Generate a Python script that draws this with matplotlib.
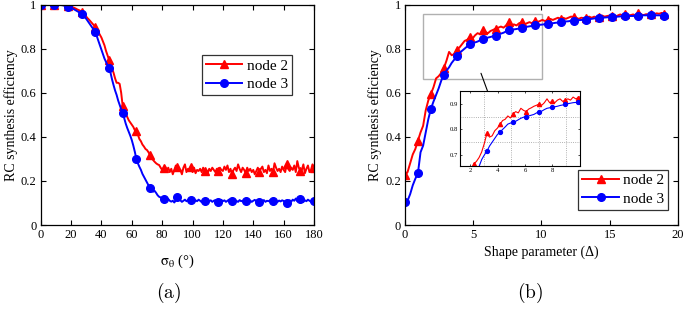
import numpy as np
import matplotlib
matplotlib.use("Agg")
import matplotlib.pyplot as plt
from matplotlib.patches import Rectangle

plt.rcParams['font.family'] = ['Liberation Serif', 'DejaVu Serif']
plt.rcParams['mathtext.fontset'] = 'stix'

# ---------------- Panel (a) data: sigma_theta 0..180 deg (1 deg step)
sigma_deg = list(range(0, 181))
node2_a = [
    1.0, 1.0, 1.0, 1.0, 1.0, 1.0, 1.0, 1.0, 1.0, 1.0,            # 0-9
    1.0, 1.0, 1.0, 0.998, 0.998, 0.997, 0.996, 0.995, 0.994, 0.992,  # 10-19
    0.99, 0.988, 0.985, 0.982, 0.978, 0.975, 0.972, 0.968, 0.96, 0.952,  # 20-29
    0.945, 0.937, 0.93, 0.922, 0.914, 0.906, 0.9, 0.888, 0.875, 0.862,  # 30-39
    0.85, 0.832, 0.815, 0.79, 0.77, 0.75, 0.735, 0.71, 0.69, 0.665,  # 40-49
    0.645, 0.645, 0.64, 0.60, 0.54, 0.53, 0.51, 0.49, 0.475, 0.465,  # 50-59
    0.455, 0.445, 0.43, 0.428, 0.41, 0.39, 0.38, 0.365, 0.356, 0.345,  # 60-69
    0.34, 0.33, 0.318, 0.31, 0.295, 0.287, 0.28, 0.275, 0.272, 0.26,  # 70-79
    0.25, 0.258, 0.265, 0.245, 0.26, 0.24, 0.255, 0.23, 0.25, 0.27,  # 80-89
    0.265, 0.245, 0.25, 0.23, 0.26, 0.275, 0.24, 0.255, 0.25, 0.265,  # 90-99
    0.24, 0.26, 0.235, 0.25, 0.245, 0.255, 0.24, 0.26, 0.245, 0.25,  # 100-109
    0.235, 0.255, 0.245, 0.26, 0.25, 0.24, 0.255, 0.245, 0.26, 0.25,  # 110-119
    0.245, 0.265, 0.25, 0.27, 0.24, 0.255, 0.23, 0.25, 0.26, 0.245,  # 120-129
    0.275, 0.255, 0.24, 0.26, 0.25, 0.235, 0.26, 0.245, 0.255, 0.24,  # 130-139
    0.25, 0.23, 0.245, 0.26, 0.24, 0.255, 0.265, 0.24, 0.25, 0.235,  # 140-149
    0.27, 0.245, 0.255, 0.24, 0.28, 0.26, 0.245, 0.255, 0.24, 0.265,  # 150-159
    0.25, 0.24, 0.275, 0.255, 0.245, 0.26, 0.25, 0.27, 0.24, 0.29,  # 160-169
    0.26, 0.245, 0.25, 0.275, 0.235, 0.255, 0.27, 0.24, 0.25, 0.275,  # 170-179
    0.26,                                                             # 180
]
node3_a = [
    1.0, 1.0, 1.0, 1.0, 1.0, 1.0, 1.0, 1.0, 1.0, 1.0,
    1.0, 1.0, 0.999, 0.998, 0.997, 0.996, 0.994, 0.992, 0.99, 0.988,
    0.985, 0.982, 0.978, 0.974, 0.97, 0.966, 0.962, 0.958, 0.95, 0.943,
    0.935, 0.925, 0.915, 0.905, 0.895, 0.886, 0.876, 0.855, 0.835, 0.815,
    0.795, 0.775, 0.755, 0.74, 0.725, 0.713, 0.69, 0.66, 0.634, 0.61,
    0.59, 0.565, 0.545, 0.525, 0.509, 0.485, 0.46, 0.44, 0.423, 0.405,
    0.385, 0.36, 0.332, 0.30, 0.28, 0.264, 0.25, 0.232, 0.219, 0.205,
    0.192, 0.18, 0.169, 0.16, 0.151, 0.155, 0.146, 0.135, 0.128, 0.125,
    0.121, 0.118, 0.12, 0.115, 0.118, 0.11, 0.106, 0.11, 0.102, 0.112,
    0.125, 0.118, 0.112, 0.105, 0.11, 0.115, 0.108, 0.112, 0.118, 0.115,
    0.11, 0.105, 0.112, 0.108, 0.115, 0.11, 0.104, 0.112, 0.107, 0.11,
    0.115, 0.108, 0.112, 0.105, 0.11, 0.113, 0.107, 0.103, 0.11, 0.114,
    0.108, 0.112, 0.105, 0.11, 0.115, 0.108, 0.111, 0.106, 0.112, 0.109,
    0.105, 0.113, 0.108, 0.11, 0.104, 0.109, 0.112, 0.107, 0.111, 0.105,
    0.11, 0.114, 0.108, 0.112, 0.106, 0.111, 0.109, 0.113, 0.105, 0.11,
    0.108, 0.112, 0.106, 0.11, 0.113, 0.108, 0.105, 0.111, 0.107, 0.112,
    0.109, 0.105, 0.1, 0.108, 0.112, 0.106, 0.115, 0.11, 0.12, 0.108,
    0.113, 0.118, 0.11, 0.105, 0.112, 0.108, 0.115, 0.11, 0.106, 0.112,
    0.11,
]

# ---------------- Panel (b) data: shape parameter 0..19 (step 0.19)
shape_param = [round(0.19 * i, 2) for i in range(101)]
node2_b = [
    0.225, 0.24, 0.28, 0.32, 0.345, 0.383, 0.42, 0.45, 0.52, 0.565,
    0.594, 0.625, 0.665, 0.675, 0.69, 0.712, 0.745, 0.785, 0.77, 0.775,
    0.795, 0.805, 0.82, 0.835, 0.84, 0.853, 0.845, 0.86, 0.87, 0.865,
    0.883, 0.875, 0.87, 0.88, 0.885, 0.891, 0.895, 0.9, 0.895, 0.905,
    0.92, 0.905, 0.91, 0.905, 0.915, 0.92, 0.91, 0.915, 0.92, 0.915,
    0.927, 0.92, 0.925, 0.93, 0.925, 0.93, 0.935, 0.93, 0.935, 0.94,
    0.936, 0.94, 0.935, 0.94, 0.945, 0.944, 0.94, 0.935, 0.94, 0.938,
    0.94, 0.945, 0.94, 0.945, 0.94, 0.945, 0.95, 0.945, 0.948, 0.95,
    0.948, 0.945, 0.95, 0.955, 0.95, 0.958, 0.95, 0.952, 0.955, 0.95,
    0.962, 0.955, 0.952, 0.956, 0.955, 0.958, 0.955, 0.96, 0.958, 0.962,
    0.958,
]
node3_b = [
    0.103, 0.11, 0.14, 0.18, 0.21, 0.235, 0.33, 0.36, 0.42, 0.48,
    0.527, 0.56, 0.59, 0.62, 0.655, 0.682, 0.70, 0.715, 0.735, 0.75,
    0.765, 0.78, 0.79, 0.80, 0.81, 0.821, 0.825, 0.828, 0.832, 0.838,
    0.844, 0.848, 0.85, 0.853, 0.856, 0.859, 0.865, 0.868, 0.872, 0.878,
    0.883, 0.885, 0.887, 0.889, 0.891, 0.894, 0.896, 0.899, 0.901, 0.903,
    0.905, 0.906, 0.908, 0.909, 0.911, 0.912, 0.914, 0.915, 0.917, 0.918,
    0.92, 0.921, 0.923, 0.924, 0.926, 0.927, 0.928, 0.929, 0.93, 0.931,
    0.932, 0.934, 0.935, 0.937, 0.938, 0.94, 0.94, 0.941, 0.942, 0.943,
    0.944, 0.944, 0.945, 0.946, 0.946, 0.947, 0.947, 0.948, 0.948, 0.949,
    0.95, 0.95, 0.951, 0.951, 0.952, 0.952, 0.952, 0.951, 0.951, 0.95,
    0.95,
]

series_labels = ["node 2", "node 3"]
RED = "#ff0000"
BLUE = "#0000ff"

fig = plt.figure(figsize=(6.85, 3.09), dpi=100)

def style_axes(ax, fs=9, length=3.5):
    ax.tick_params(direction='in', top=True, right=True, labelsize=fs,
                   length=length, width=0.8, pad=3)
    for s in ax.spines.values():
        s.set_linewidth(0.9)

# ---------- (a)
axa = fig.add_axes([0.0594, 0.2718, 0.399, 0.7136])
axa.plot(sigma_deg, node2_a, color=RED, lw=1.4, marker='^', ms=6, markevery=9,
         label=series_labels[0])
axa.plot(sigma_deg, node3_a, color=BLUE, lw=1.4, marker='o', ms=5.5, markevery=9,
         label=series_labels[1])
axa.set_xlim(0, 180)
axa.set_ylim(0, 1)
axa.set_xticks(range(0, 181, 20))
axa.set_yticks([0, 0.2, 0.4, 0.6, 0.8, 1.0])
axa.set_yticklabels(["0", "0.2", "0.4", "0.6", "0.8", "1"])
style_axes(axa)
axa.set_xlabel(r"$\mathrm{σ_θ}$ (°)", fontsize=10.5, labelpad=8)
axa.set_ylabel("RC synthesis efficiency", fontsize=10, labelpad=2)
lega = axa.legend(loc='upper left', bbox_to_anchor=(0.59, 0.77), fontsize=11,
                  frameon=True, fancybox=False, edgecolor='black',
                  handlelength=2.4, borderpad=0.25, labelspacing=0.3,
                  handletextpad=0.3, borderaxespad=0)
lega.get_frame().set_linewidth(0.9)

# ---------- (b)
axb = fig.add_axes([0.5912, 0.2718, 0.3985, 0.7136])
axb.plot(shape_param, node2_b, color=RED, lw=1.4, marker='^', ms=6, markevery=5,
         label=series_labels[0])
axb.plot(shape_param, node3_b, color=BLUE, lw=1.4, marker='o', ms=5.5, markevery=5,
         label=series_labels[1])
axb.set_xlim(0, 20)
axb.set_ylim(0, 1)
axb.set_xticks([0, 5, 10, 15, 20])
axb.set_yticks([0, 0.2, 0.4, 0.6, 0.8, 1.0])
axb.set_yticklabels(["0", "0.2", "0.4", "0.6", "0.8", "1"])
style_axes(axb)
axb.set_xlabel("Shape parameter (Δ)", fontsize=10, labelpad=3)
axb.set_ylabel("RC synthesis efficiency", fontsize=10, labelpad=2)
legb = axb.legend(loc='lower right', bbox_to_anchor=(0.965, 0.07), fontsize=11,
                  frameon=True, fancybox=False, edgecolor='black',
                  handlelength=2.4, borderpad=0.25, labelspacing=0.3,
                  handletextpad=0.3, borderaxespad=0)
legb.get_frame().set_linewidth(0.9)

# zoom rectangle and arrow
axb.add_patch(Rectangle((1.34, 0.66), 10.05 - 1.34, 0.955 - 0.66, fill=False,
                        edgecolor='#b0b0b0', lw=1.0, zorder=1))
axb.annotate("", xy=(6.28, 0.568), xytext=(5.5, 0.70),
             arrowprops=dict(arrowstyle='-|>', color='black', lw=0.8,
                             mutation_scale=6))

# inset
axi = fig.add_axes([0.6715, 0.4638, 0.1752, 0.2427])
axi.plot(shape_param, node2_b, color=RED, lw=0.8, marker='^', ms=3,
         markevery=(12, 5))
axi.plot(shape_param, node3_b, color=BLUE, lw=0.8, marker='o', ms=2.8,
         markevery=(12, 5))
axi.set_xlim(1.27, 10.0)
axi.set_ylim(0.658, 0.952)
axi.set_xticks([2, 4, 6, 8])
axi.set_yticks([0.7, 0.8, 0.9])
axi.set_xticks([3, 5, 7, 9], minor=True)
axi.set_yticks([0.75, 0.85], minor=True)
axi.grid(which='minor', color='#999999', ls=':', lw=0.6)
axi.tick_params(which='minor', length=0)
axi.tick_params(direction='in', top=True, right=True, labelsize=4.8,
                length=1.5, width=0.5, pad=1.5)
for s in axi.spines.values():
    s.set_linewidth(0.8)

# panel labels
fig.text(169 / 685, 1 - 293 / 309, r"$\mathrm{(a)}$", fontsize=14,
         ha='center', va='center', math_fontfamily='cm')
fig.text(530 / 685, 1 - 293 / 309, r"$\mathrm{(b)}$", fontsize=14,
         ha='center', va='center', math_fontfamily='cm')

fig.savefig("out.png", dpi=100)
